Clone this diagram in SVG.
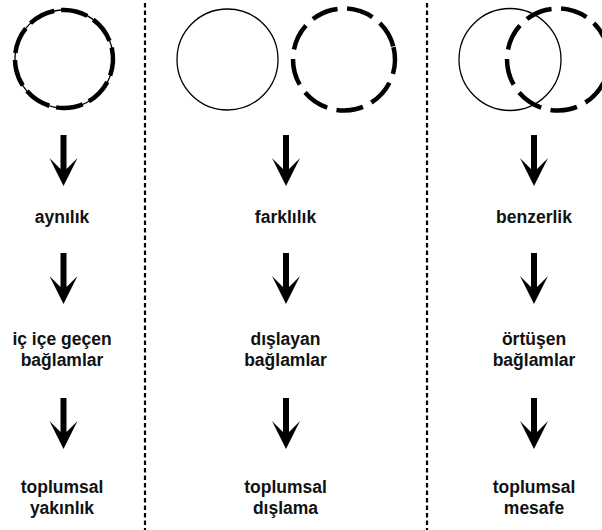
<svg xmlns="http://www.w3.org/2000/svg" width="602" height="530" viewBox="0 0 602 530">
<defs>
<style>
.thin{fill:none;stroke:#000;stroke-width:1.3}
.dash{fill:none;stroke:#000;stroke-width:4.5;stroke-dasharray:27 9.5}
.dash2{fill:none;stroke:#000;stroke-width:4.5;stroke-dasharray:27 7}
.div{stroke:#000;stroke-width:2.2;stroke-dasharray:4.5 3}
.lbl{font-family:"Liberation Sans",Arial,Helvetica,sans-serif;font-weight:bold;font-size:17.5px;text-anchor:middle;fill:#111}
</style>
<path id="arr" d="M-3,0 L3,0 L3,34 L14,23 L0,51 L-14,23 L-3,34 Z" fill="#000"/>
</defs>
<g id="dividers">
<line class="div" x1="145" y1="3" x2="145" y2="530"/>
<line class="div" x1="427" y1="3" x2="427" y2="530"/>
</g>
<g id="circles-left">
<circle class="thin" cx="64" cy="59" r="49"/>
<circle class="dash2" cx="64" cy="59" r="49" transform="rotate(-12 64 59)"/>
</g>
<g id="circles-middle">
<circle class="thin" cx="227.5" cy="59.5" r="50.5"/>
<circle class="dash" cx="344" cy="59.5" r="51" transform="rotate(-14 344 59.5)"/>
</g>
<g id="circles-right">
<circle class="thin" cx="510" cy="59.5" r="51"/>
<circle class="dash" cx="558" cy="59.5" r="51" transform="rotate(-14 558 59.5)"/>
</g>
<g id="connectors">
<use href="#arr" x="63.5" y="135"/>
<use href="#arr" x="63.5" y="253"/>
<use href="#arr" x="63.5" y="398"/>
<use href="#arr" x="286" y="135"/>
<use href="#arr" x="286" y="253"/>
<use href="#arr" x="286" y="398"/>
<use href="#arr" x="534" y="135"/>
<use href="#arr" x="534" y="253"/>
<use href="#arr" x="534" y="398"/>
</g>
<g id="node-aynilik"><text class="lbl" x="62" y="223">aynılık</text></g>
<g id="node-ic-ice"><text class="lbl" x="62" y="345">iç içe geçen</text><text class="lbl" x="62" y="366">bağlamlar</text></g>
<g id="node-yakinlik"><text class="lbl" x="62" y="493">toplumsal</text><text class="lbl" x="62" y="514">yakınlık</text></g>
<g id="node-farklilik"><text class="lbl" x="285.5" y="223">farklılık</text></g>
<g id="node-dislayan"><text class="lbl" x="285.5" y="345">dışlayan</text><text class="lbl" x="285.5" y="366">bağlamlar</text></g>
<g id="node-dislama"><text class="lbl" x="285.5" y="493">toplumsal</text><text class="lbl" x="285.5" y="514">dışlama</text></g>
<g id="node-benzerlik"><text class="lbl" x="534" y="223">benzerlik</text></g>
<g id="node-ortusen"><text class="lbl" x="534" y="345">örtüşen</text><text class="lbl" x="534" y="366">bağlamlar</text></g>
<g id="node-mesafe"><text class="lbl" x="534" y="493">toplumsal</text><text class="lbl" x="534" y="514">mesafe</text></g>
</svg>
